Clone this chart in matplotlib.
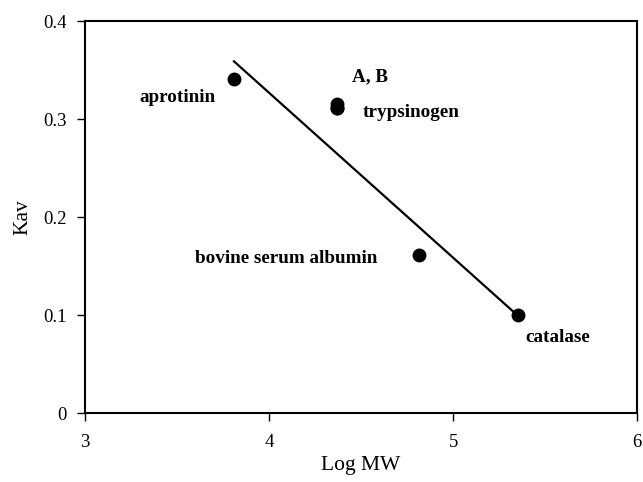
import matplotlib
matplotlib.use("Agg")
from matplotlib import pyplot as plt

# standards: log MW vs Kav
names = ['aprotinin', 'trypsinogen', 'bovine serum albumin', 'catalase']
log_mw = [3.81, 4.37, 4.815, 5.355]
kav = [0.341, 0.311, 0.161, 0.100]

# samples A, B
ab_x = [4.37, 4.37]
ab_y = [0.315, 0.311]

# fitted line
line_x = [3.81, 5.36]
line_y = [0.359, 0.098]

# label anchors (data coords) and alignment
label_x = [3.71, 4.51, 4.59, 5.39]
label_y = [0.322, 0.307, 0.158, 0.077]
label_ha = ['right', 'left', 'right', 'left']

plt.rcParams['font.family'] = ['Liberation Serif', 'DejaVu Serif']

fig = plt.figure(figsize=(6.43, 4.82), dpi=100)
ax = fig.add_axes([0.132, 0.143, 0.859, 0.813])

ax.plot(line_x, line_y, color='black', lw=1.6)
ax.plot(log_mw, kav, 'o', color='black', ms=9)
ax.plot(ab_x, ab_y, 'o', color='black', ms=9)

for n, x, y, ha in zip(names, label_x, label_y, label_ha):
    ax.text(x, y, n, ha=ha, va='center', fontsize=13.8, fontweight='bold')
ax.text(4.45, 0.343, 'A, B', ha='left', va='center', fontsize=13.8, fontweight='bold')

ax.set_xlim(3, 6)
ax.set_ylim(0, 0.4)
ax.set_xticks([3, 4, 5, 6])
ax.set_yticks([0, 0.1, 0.2, 0.3, 0.4])
ax.set_yticklabels(['0', '0.1', '0.2', '0.3', '0.4'])
ax.tick_params(direction='out', length=6, width=1, labelsize=13.5)
ax.tick_params(axis='y', pad=7)
ax.tick_params(axis='x', pad=9)
for s in ax.spines.values():
    s.set_linewidth(1.5)

ax.set_xlabel('Log MW', fontsize=15.5, labelpad=4)
ax.set_ylabel('Kav', fontsize=15.5, labelpad=8)

fig.savefig('out.png', dpi=100)
